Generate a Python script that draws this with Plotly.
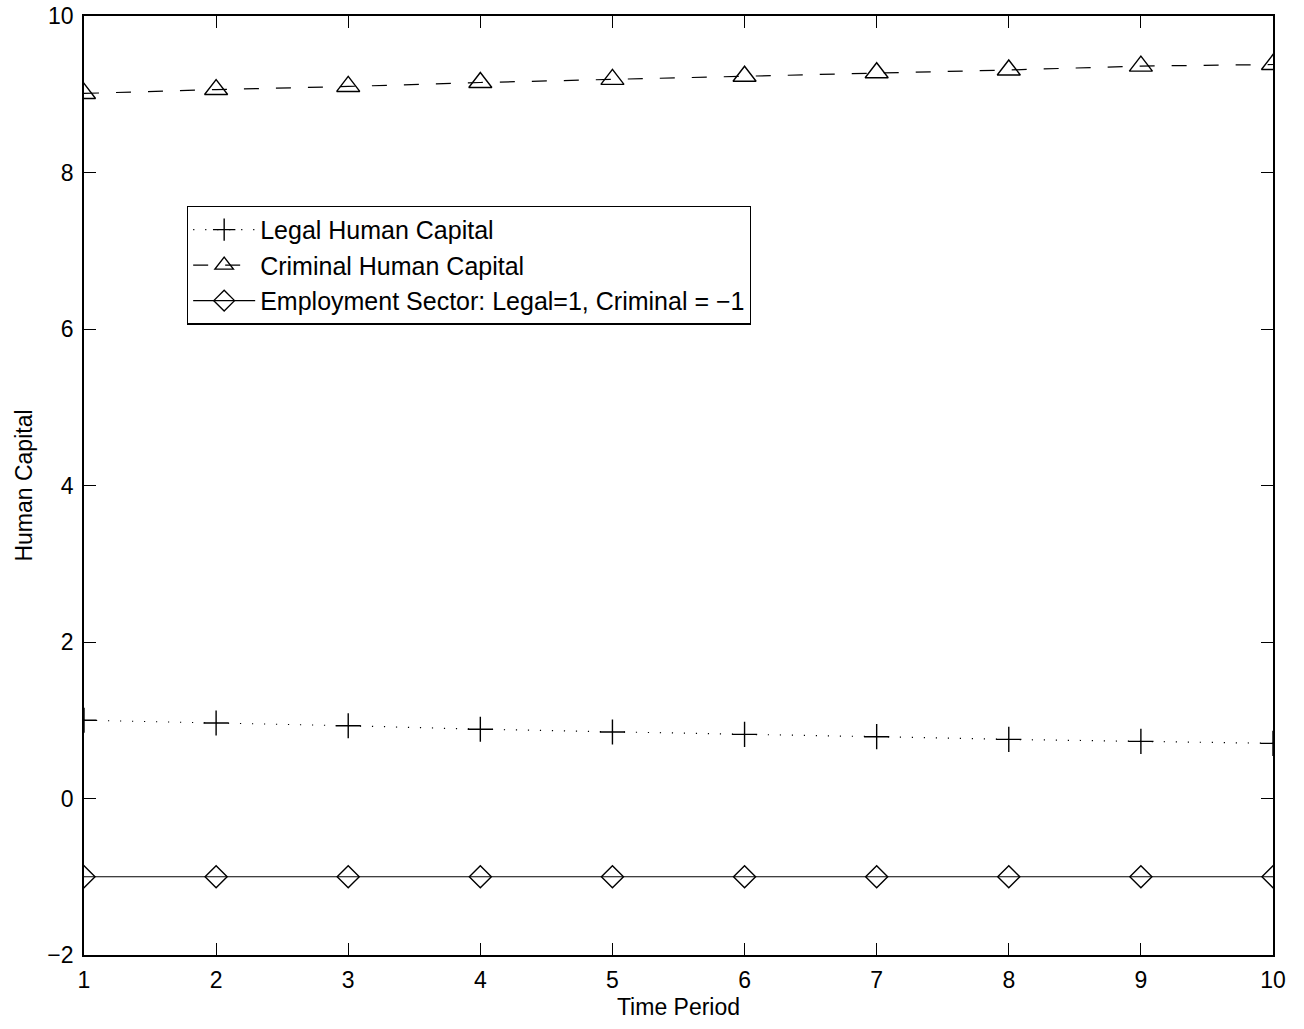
import plotly.graph_objects as go

periods = [1, 2, 3, 4, 5, 6, 7, 8, 9, 10]
legal_hc = [1.00, 0.965, 0.93, 0.885, 0.85, 0.82, 0.79, 0.755, 0.73, 0.705]
criminal_hc = [9.01, 9.06, 9.10, 9.15, 9.19, 9.23, 9.275, 9.31, 9.36, 9.38]
employment = [-1, -1, -1, -1, -1, -1, -1, -1, -1, -1]
y_ticks = [-2, 0, 2, 4, 6, 8, 10]
y_ticktext = ["\u22122", "0", "2", "4", "6", "8", "10"]

FONT = "Liberation Sans, Arial, Helvetica, sans-serif"

fig = go.Figure()
fig.add_trace(go.Scatter(
    x=periods, y=legal_hc, mode="lines+markers", name="Legal Human Capital",
    line=dict(color="black", width=1.2, dash="1.2px,10.8px"),
    marker=dict(symbol="cross-thin-open", size=18, color="black", line=dict(color="black", width=1.4)),
))
fig.add_trace(go.Scatter(
    x=periods, y=criminal_hc, mode="lines+markers", name="Criminal Human Capital",
    line=dict(color="black", width=1.2, dash="15px,17px"),
    marker=dict(symbol="triangle-up-open", size=20, color="black", line=dict(color="black", width=1.4)),
))
fig.add_trace(go.Scatter(
    x=periods, y=employment, mode="lines+markers", name="Employment Sector: Legal=1, Criminal = \u22121",
    line=dict(color="black", width=1.1),
    marker=dict(symbol="diamond-open", size=17, color="black", line=dict(color="black", width=1.4)),
))

axis_common = dict(
    showgrid=False, zeroline=False, showline=True, linecolor="black", linewidth=1.6,
    mirror="ticks", ticks="inside", ticklen=12, tickcolor="black", tickwidth=1.1,
    tickfont=dict(family=FONT, size=23, color="black"), automargin=False,
    ticklabeloverflow="allow",
)

fig.update_layout(
    width=1304, height=1029,
    paper_bgcolor="white", plot_bgcolor="white",
    margin=dict(l=84, r=31, t=16, b=74),
    font=dict(family=FONT, size=23, color="black"),
    xaxis=dict(range=[1, 10], tickvals=periods, ticktext=[str(p) for p in periods],
               title=dict(text="Time Period", font=dict(family=FONT, size=23), standoff=6),
               ticklabelstandoff=4,
               **axis_common),
    yaxis=dict(range=[-2, 10], tickvals=y_ticks, ticktext=y_ticktext,
               title=dict(text="Human Capital", font=dict(family=FONT, size=23), standoff=8),
               ticklabelstandoff=4,
               **axis_common),
    legend=dict(x=0.0866, y=0.798, xanchor="left", yanchor="top",
                bordercolor="black", borderwidth=1.2, bgcolor="white",
                font=dict(family=FONT, size=25, color="black"),
                itemwidth=62, tracegroupgap=0),
    showlegend=True,
)

fig.write_html("out.html", config={"displayModeBar": False},
               post_script="document.body.style.margin='0';document.body.style.overflow='hidden';")
